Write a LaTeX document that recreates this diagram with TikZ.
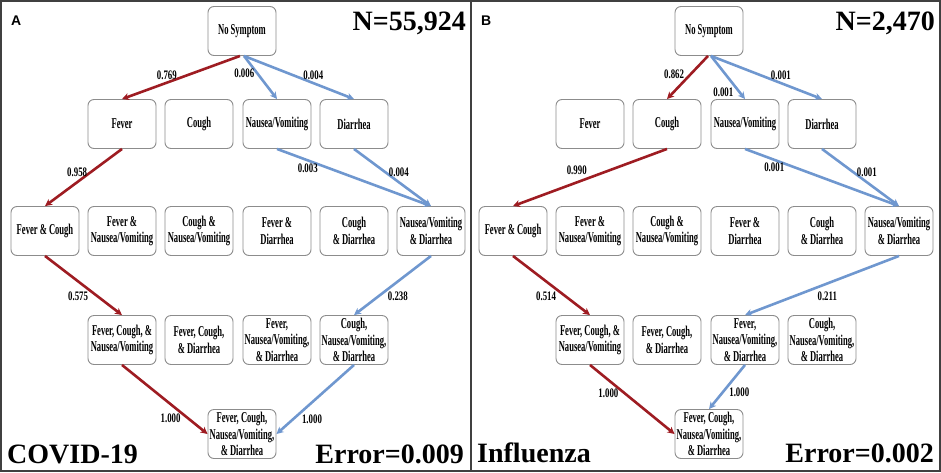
\documentclass[tikz,border=0pt]{standalone}
\usepackage{fontspec}
\setmainfont{Liberation Serif}
\newfontfamily\statefont{Liberation Serif}[FakeStretch=0.57]
\newfontfamily\probfont{Liberation Serif}[FakeStretch=0.68]
\newfontfamily\panelfont{Liberation Sans}
\usetikzlibrary{arrows.meta}

\definecolor{pathred}{RGB}{158,28,34}
\definecolor{pathblue}{RGB}{111,151,207}
\definecolor{boxgray}{RGB}{140,140,140}
\definecolor{framegray}{RGB}{64,64,64}

\tikzset{
	state/.style={draw=boxgray, line width=0.9pt, fill=white, rounded corners=6pt,
		minimum width=68pt, minimum height=49pt, inner sep=0.5pt, align=center,
		font=\statefont\bfseries\fontsize{15}{16.5}\selectfont},
	redpath/.style={draw=pathred, line width=2.6pt, -{Stealth[length=7pt,width=7pt,inset=2pt]}},
	bluepath/.style={draw=pathblue, line width=2.6pt, -{Stealth[length=7pt,width=7pt,inset=2pt]}},
	prob/.style={text=black, inner sep=2pt, font=\probfont\bfseries\fontsize{13}{15}\selectfont},
	big/.style={inner sep=0pt, font=\bfseries\fontsize{28}{30}\selectfont},
	panel/.style={inner sep=0pt, font=\panelfont\bfseries\fontsize{14}{16}\selectfont}
}

\begin{document}
\begin{tikzpicture}[x=1pt, y=-1pt]
		\useasboundingbox (0,0) rectangle (941,472);
		\draw [framegray, line width=2pt] (1,1) rectangle (940,471);
		\draw [framegray, line width=2pt] (470.5,1) -- (470.5,471);
		
		% panel A: COVID-19
		\node [panel, anchor=base west] (LA) at (11,25) {A};
		\node [big, anchor=base east] (NA) at (466,30) {N=55,924};
		\node [big, anchor=base west] (DA) at (7,463) {COVID-19};
		\node [big, anchor=base east] (EA) at (464,463) {Error=0.009};
		
		\node [state] (NSa) at (242, 31) {No Symptom};
		\node [state] (Fa) at (122, 124) {Fever};
		\node [state] (Ca) at (199, 124) {Cough};
		\node [state] (NVa) at (277, 124) {Nausea/Vomiting};
		\node [state] (Da) at (354, 124) {Diarrhea};
		\node [state] (FCa) at (45, 231) {Fever \& Cough};
		\node [state] (FNVa) at (122, 231) {Fever \&\\Nausea/Vomiting};
		\node [state] (CNVa) at (199, 231) {Cough \&\\Nausea/Vomiting};
		\node [state] (FDa) at (277, 231) {Fever \&\\Diarrhea};
		\node [state] (CDa) at (354, 231) {Cough\\\& Diarrhea};
		\node [state] (NVDa) at (431, 231) {Nausea/Vomiting\\\& Diarrhea};
		\node [state] (FCNVa) at (122, 340) {Fever, Cough, \&\\Nausea/Vomiting};
		\node [state] (FCDa) at (199, 340) {Fever, Cough,\\\& Diarrhea};
		\node [state] (FNVDa) at (277, 340) {Fever,\\Nausea/Vomiting,\\\& Diarrhea};
		\node [state] (CNVDa) at (354, 340) {Cough,\\Nausea/Vomiting,\\\& Diarrhea};
		\node [state] (ALLa) at (242, 434) {Fever, Cough,\\Nausea/Vomiting,\\\& Diarrhea};
		
		\draw [redpath] ([xshift=-2pt]NSa.south) -- node [prob, pos=.62, above] {0.769} (Fa.north);
		\draw [bluepath] ([xshift=2pt]NSa.south) -- node [prob, pos=.41, left] {0.006} (NVa.north);
		\draw [bluepath] ([xshift=2pt]NSa.south) -- node [prob, pos=.63, above] {0.004} (Da.north);
		\draw [redpath] (Fa.south) -- node [prob, pos=.41, left] {0.958} (FCa.north);
		\draw [bluepath] (NVa.south) -- node [prob, pos=.2, below] {0.003} (NVDa.north);
		\draw [bluepath] (Da.south) -- node [prob, pos=.41, right] {0.004} (NVDa.north);
		\draw [redpath] (FCa.south) -- node [prob, pos=.68, left=6pt] {0.575} (FCNVa.north);
		\draw [bluepath] (NVDa.south) -- node [prob, pos=.68, right=6pt] {0.238} (CNVDa.north);
		\draw [redpath] (FCNVa.south) -- node [prob, pos=.77, left=4pt] {1.000} (ALLa.west);
		\draw [bluepath] (CNVDa.south) -- node [prob, pos=.79, right=6pt] {1.000} (ALLa.east);
		
		% panel B: Influenza
		\node [panel, anchor=base west] (LB) at (481,25) {B};
		\node [big, anchor=base east] (NB) at (935,30) {N=2,470};
		\node [big, anchor=base west] (DB) at (477,462) {Influenza};
		\node [big, anchor=base east] (EB) at (934,462) {Error=0.002};
		
		\node [state] (NSb) at (709, 31) {No Symptom};
		\node [state] (Fb) at (590, 124) {Fever};
		\node [state] (Cb) at (667, 124) {Cough};
		\node [state] (NVb) at (745, 124) {Nausea/Vomiting};
		\node [state] (Db) at (822, 124) {Diarrhea};
		\node [state] (FCb) at (513, 231) {Fever \& Cough};
		\node [state] (FNVb) at (590, 231) {Fever \&\\Nausea/Vomiting};
		\node [state] (CNVb) at (667, 231) {Cough \&\\Nausea/Vomiting};
		\node [state] (FDb) at (745, 231) {Fever \&\\Diarrhea};
		\node [state] (CDb) at (822, 231) {Cough\\\& Diarrhea};
		\node [state] (NVDb) at (899, 231) {Nausea/Vomiting\\\& Diarrhea};
		\node [state] (FCNVb) at (590, 340) {Fever, Cough, \&\\Nausea/Vomiting};
		\node [state] (FCDb) at (667, 340) {Fever, Cough,\\\& Diarrhea};
		\node [state] (FNVDb) at (745, 340) {Fever,\\Nausea/Vomiting,\\\& Diarrhea};
		\node [state] (CNVDb) at (822, 340) {Cough,\\Nausea/Vomiting,\\\& Diarrhea};
		\node [state] (ALLb) at (709, 434) {Fever, Cough,\\Nausea/Vomiting,\\\& Diarrhea};
		
		\draw [redpath] ([xshift=-1pt]NSb.south) -- node [prob, pos=.43, left=3pt] {0.862} (Cb.north);
		\draw [bluepath] ([xshift=2pt]NSb.south) -- node [prob, pos=.84, left=3pt] {0.001} (NVb.north);
		\draw [bluepath] ([xshift=2pt]NSb.south) -- node [prob, pos=.63, above] {0.001} (Db.north);
		\draw [redpath] (Cb.south) -- node [prob, pos=.5, above left] {0.990} (FCb.north);
		\draw [bluepath] (NVb.south) -- node [prob, pos=.19, below] {0.001} (NVDb.north);
		\draw [bluepath] (Db.south) -- node [prob, pos=.41, right] {0.001} (NVDb.north);
		\draw [redpath] (FCb.south) -- node [prob, pos=.68, left=6pt] {0.514} (FCNVb.north);
		\draw [bluepath] (NVDb.south) -- node [prob, pos=.55, below right] {0.211} (FNVDb.north);
		\draw [redpath] (FCNVb.south) -- node [prob, pos=.41, left=3pt] {1.000} (ALLb.west);
		\draw [bluepath] (FNVDb.south) -- node [prob, pos=.61, right=3pt] {1.000} (ALLb.north);
\end{tikzpicture}
\end{document}
